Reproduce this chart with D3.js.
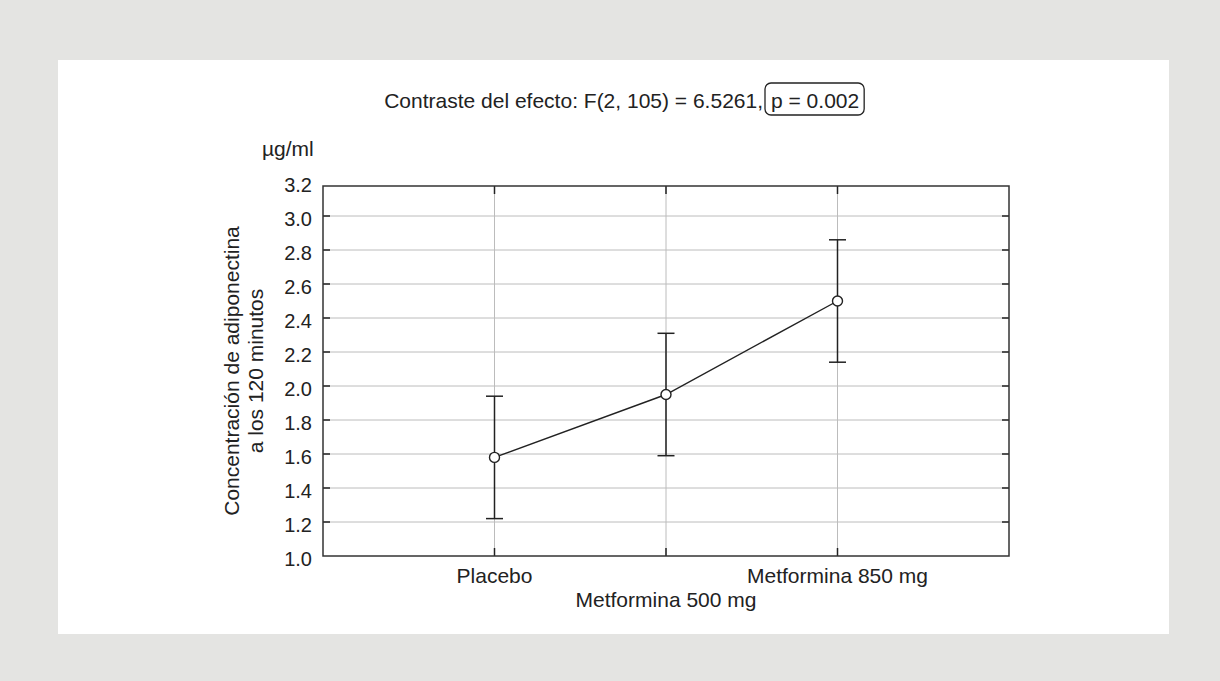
<!DOCTYPE html>
<html>
<head>
<meta charset="utf-8">
<script src="https://cdn.jsdelivr.net/npm/d3@7"></script>
<style>
    body { margin: 0; background: #e4e4e2; }
    svg { display: block; }
    text { font-family: "Liberation Sans", Arial, Helvetica, sans-serif; fill: #222; }
</style>
</head>
<body>
<div id="chart"></div>
<script>
// values
let groups = ["Placebo", "Metformina 500 mg", "Metformina 850 mg"];
let means = [1.58, 1.95, 2.50];
let lower = [1.22, 1.59, 2.14];
let upper = [1.94, 2.31, 2.86];
let yTicks = [1.0, 1.2, 1.4, 1.6, 1.8, 2.0, 2.2, 2.4, 2.6, 2.8, 3.0, 3.2];

let titleText = "Contraste del efecto: F(2, 105) = 6.5261,";
let pText = "p = 0.002";
let unitText = "\u00b5g/ml";
let yTitle = ["Concentraci\u00f3n de adiponectina", "a los 120 minutos"];

let width = 1220,
    height = 681;

let plot = {left: 323, right: 1009, top: 186, bottom: 556};

let svg = d3.select("#chart")
    .append("svg")
    .attr("width", width)
    .attr("height", height);

svg.append("rect")
    .attr("width", width).attr("height", height)
    .attr("fill", "#e4e4e2");

// white panel
svg.append("rect")
    .attr("x", 58).attr("y", 60)
    .attr("width", 1111).attr("height", 574)
    .attr("fill", "#fff");

let x = d3.scalePoint()
    .domain(groups)
    .range([plot.left, plot.right])
    .padding(1);

let y = d3.scaleLinear()
    .domain([1.0, 3.2])
    .range([plot.bottom, 182]);

let inner = yTicks.filter(d => d > 1.0 && d < 3.2);

// grid
svg.append("g").selectAll("line")
    .data(inner)
    .enter().append("line")
    .attr("x1", plot.left).attr("x2", plot.right)
    .attr("y1", d => y(d)).attr("y2", d => y(d))
    .attr("stroke", "#bcbcbc").attr("stroke-width", 1);

svg.append("g").selectAll("line")
    .data(groups)
    .enter().append("line")
    .attr("x1", d => x(d)).attr("x2", d => x(d))
    .attr("y1", plot.top).attr("y2", plot.bottom)
    .attr("stroke", "#bcbcbc").attr("stroke-width", 1);

// inward ticks on all sides
let ticks = svg.append("g").attr("stroke", "#222").attr("stroke-width", 1.5);
inner.forEach(function (d) {
    ticks.append("line").attr("x1", plot.left).attr("x2", plot.left + 7).attr("y1", y(d)).attr("y2", y(d));
    ticks.append("line").attr("x1", plot.right - 7).attr("x2", plot.right).attr("y1", y(d)).attr("y2", y(d));
});
groups.forEach(function (d) {
    ticks.append("line").attr("x1", x(d)).attr("x2", x(d)).attr("y1", plot.bottom).attr("y2", plot.bottom - 8);
    ticks.append("line").attr("x1", x(d)).attr("x2", x(d)).attr("y1", plot.top).attr("y2", plot.top + 8);
});

// frame
svg.append("rect")
    .attr("x", plot.left).attr("y", plot.top)
    .attr("width", plot.right - plot.left)
    .attr("height", plot.bottom - plot.top)
    .attr("fill", "none")
    .attr("stroke", "#333")
    .attr("stroke-width", 1.5);

// y tick labels
svg.append("g").selectAll("text")
    .data(yTicks)
    .enter().append("text")
    .attr("x", 312)
    .attr("y", d => y(d) + 3)
    .attr("dy", "0.35em")
    .attr("text-anchor", "end")
    .style("font-size", "20px")
    .text(d3.format(".1f"));

// x labels, staggered
svg.append("g").selectAll("text")
    .data(groups)
    .enter().append("text")
    .attr("x", d => x(d))
    .attr("y", (d, i) => i % 2 ? 607 : 583)
    .attr("text-anchor", "middle")
    .style("font-size", "21px")
    .text(d => d);

// error bars
let bars = svg.append("g").attr("stroke", "#222").attr("stroke-width", 1.5);
groups.forEach(function (g, i) {
    bars.append("line").attr("x1", x(g)).attr("x2", x(g)).attr("y1", y(lower[i])).attr("y2", y(upper[i]));
    bars.append("line").attr("x1", x(g) - 8.5).attr("x2", x(g) + 8.5).attr("y1", y(lower[i])).attr("y2", y(lower[i]));
    bars.append("line").attr("x1", x(g) - 8.5).attr("x2", x(g) + 8.5).attr("y1", y(upper[i])).attr("y2", y(upper[i]));
});

// mean line
let line = d3.line()
    .x((d, i) => x(groups[i]))
    .y(d => y(d));

svg.append("path")
    .datum(means)
    .attr("d", line)
    .attr("fill", "none")
    .attr("stroke", "#222")
    .attr("stroke-width", 1.4);

svg.append("g").selectAll("circle")
    .data(means)
    .enter().append("circle")
    .attr("cx", (d, i) => x(groups[i]))
    .attr("cy", d => y(d))
    .attr("r", 5)
    .attr("fill", "#fff")
    .attr("stroke", "#222")
    .attr("stroke-width", 1.4);

// title with boxed p value
svg.append("text")
    .attr("x", 763).attr("y", 108)
    .attr("text-anchor", "end")
    .style("font-size", "21px")
    .text(titleText);

let pLabel = svg.append("text")
    .attr("x", 771).attr("y", 108)
    .style("font-size", "21px")
    .text(pText);

let bb = pLabel.node().getBBox();
svg.append("rect")
    .attr("x", 765).attr("y", 83)
    .attr("width", bb.x + bb.width + 5 - 765)
    .attr("height", 32)
    .attr("rx", 6)
    .attr("fill", "none")
    .attr("stroke", "#222")
    .attr("stroke-width", 1.3);

// unit label
svg.append("text")
    .attr("x", 262).attr("y", 156)
    .style("font-size", "21px")
    .text(unitText);

// y axis title, two lines
yTitle.forEach(function (t, i) {
    svg.append("text")
        .attr("transform", "translate(" + (239 + i * 24) + "," + ((plot.top + plot.bottom) / 2) + ") rotate(-90)")
        .attr("text-anchor", "middle")
        .style("font-size", "21px")
        .text(t);
});
</script>
</body>
</html>
